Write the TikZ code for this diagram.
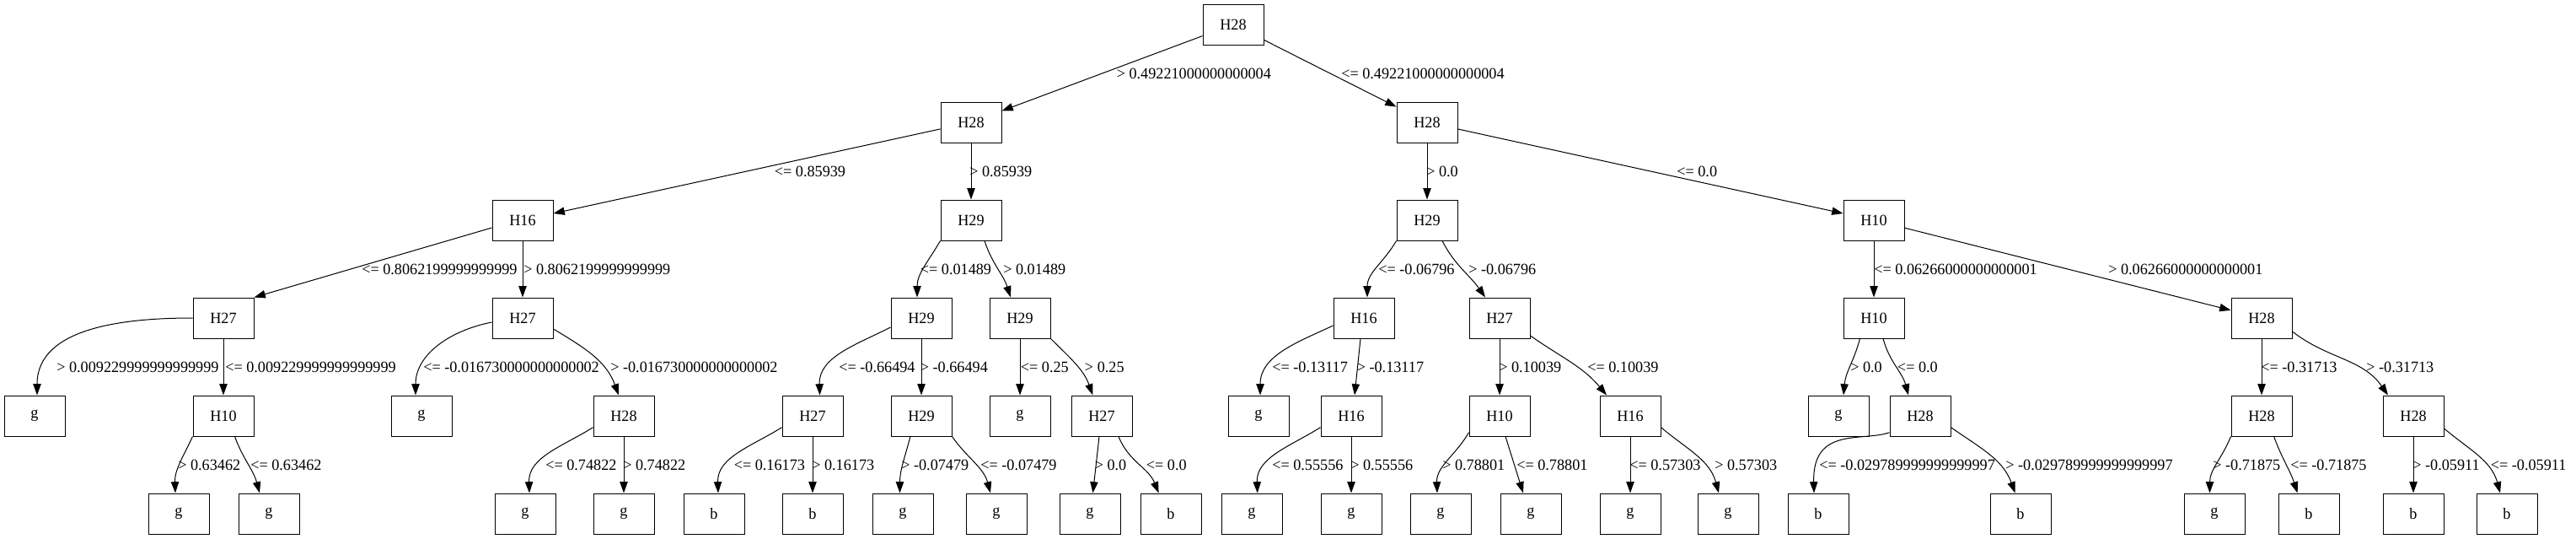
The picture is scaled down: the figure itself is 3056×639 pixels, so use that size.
\documentclass[tikz,border=0pt]{standalone}
\usepackage{fontspec}
\setmainfont{Liberation Serif}[FakeStretch=0.975]
\usetikzlibrary{arrows.meta,calc}
\begin{document}
\begin{tikzpicture}[x=0.75pt,y=-0.75pt,
  box/.style={draw,line width=0.75pt,minimum width=54pt,minimum height=36pt,inner sep=0pt,font=\fontsize{14pt}{16pt}\selectfont},
  edge/.style={line width=0.75pt,-{Triangle[length=10pt,width=7pt]}},
  lab/.style={anchor=base west,inner sep=0pt,font=\fontsize{14pt}{16pt}\selectfont}]
\useasboundingbox (0,0) rectangle (3056,639);
% level 0
\node[box] (n0) at (1463,29) {H28};
% level 1
\node[box] (n1) at (1152,145) {H28};
\node[box] (n2) at (1693,145) {H28};
% level 2
\node[box] (n3) at (620,261) {H16};
\node[box] (n4) at (1152,261) {H29};
\node[box] (n5) at (1693,261) {H29};
\node[box] (n6) at (2223,261) {H10};
% level 3
\node[box] (n7) at (265,377) {H27};
\node[box] (n8) at (620,377) {H27};
\node[box] (n9) at (1093,377) {H29};
\node[box] (n10) at (1210,377) {H29};
\node[box] (n11) at (1618,377) {H16};
\node[box] (n12) at (1779,377) {H27};
\node[box] (n13) at (2223,377) {H10};
\node[box] (n14) at (2683,377) {H28};
% level 4
\node[box] (n15) at (41,493) {g};
\node[box] (n16) at (265,493) {H10};
\node[box] (n17) at (500,493) {g};
\node[box] (n18) at (740,493) {H28};
\node[box] (n19) at (964,493) {H27};
\node[box] (n20) at (1093,493) {H29};
\node[box] (n21) at (1210,493) {g};
\node[box] (n22) at (1307,493) {H27};
\node[box] (n23) at (1493,493) {g};
\node[box] (n24) at (1603,493) {H16};
\node[box] (n25) at (1779,493) {H10};
\node[box] (n26) at (1934,493) {H16};
\node[box] (n27) at (2181,493) {g};
\node[box] (n28) at (2278,493) {H28};
\node[box] (n29) at (2683,493) {H28};
\node[box] (n30) at (2863,493) {H28};
% level 5
\node[box] (n31) at (212,609) {g};
\node[box] (n32) at (319,609) {g};
\node[box] (n33) at (623,609) {g};
\node[box] (n34) at (740,609) {g};
\node[box] (n35) at (847,609) {b};
\node[box] (n36) at (964,609) {b};
\node[box] (n37) at (1071,609) {g};
\node[box] (n38) at (1182,609) {g};
\node[box] (n39) at (1293,609) {g};
\node[box] (n40) at (1389,609) {b};
\node[box] (n41) at (1485,609) {g};
\node[box] (n42) at (1603,609) {g};
\node[box] (n43) at (1709,609) {g};
\node[box] (n44) at (1816,609) {g};
\node[box] (n45) at (1934,609) {g};
\node[box] (n46) at (2050,609) {g};
\node[box] (n47) at (2157,609) {b};
\node[box] (n48) at (2397,609) {b};
\node[box] (n49) at (2627,609) {g};
\node[box] (n50) at (2739,609) {b};
\node[box] (n51) at (2863,609) {b};
\node[box] (n52) at (2974,609) {b};
% edges
\draw[edge] (n0) -- (n1);
\draw[edge] (n0) -- (n2);
\draw[edge] (n1) -- (n3);
\draw[edge] (n1) -- (n4);
\draw[edge] (n2) -- (n5);
\draw[edge] (n2) -- (n6);
\draw[edge] ($(n3.west)+(0,9)$) -- (n7.north east);
\draw[edge] (n3) -- (n8);
\draw[edge] (n4.south west) to[out=-120,in=90] ($(n9.north)+(-5,0)$);
\draw[edge] ($(n4.south)+(16,0)$) to[out=-72,in=108] ($(n10.north)+(-11,0)$);
\draw[edge] (n5.south west) to[out=-120,in=90] ($(n11.north)+(4,0)$);
\draw[edge] ($(n5.south)+(18,0)$) to[out=-63,in=125] ($(n12.north)+(-17,0)$);
\draw[edge] (n6) -- (n13);
\draw[edge] (n6) -- (n14);
\draw[edge] (n7.west) to[out=180,in=90] ($(n15.north)+(3,0)$);
\draw[edge] (n7) -- (n16);
\draw[edge] ($(n8.west)+(0,5)$) to[out=191,in=90] ($(n17.north)+(-7,0)$);
\draw[edge] ($(n8.east)+(0,13)$) to[out=-31,in=110] ($(n18.north)+(-6,0)$);
\draw[edge] ($(n9.west)+(0,11)$) to[out=207,in=92] ($(n19.north)+(8.6,0)$);
\draw[edge] (n9) -- (n20);
\draw[edge] (n10) -- (n21);
\draw[edge] (n10.south east) to[out=-45,in=110] ($(n22.north)+(-10.5,0)$);
\draw[edge] ($(n11.west)+(0,9)$) to[out=205,in=90] ($(n23.north)+(2,0)$);
\draw[edge] ($(n11.south)+(-4,0)$) -- ($(n24.north)+(4,0)$);
\draw[edge] (n12) -- (n25);
\draw[edge] ($(n12.east)+(0,21)$) to[out=-35,in=130] ($(n26.north)+(-28,0)$);
\draw[edge] ($(n13.south)+(-16.5,0)$) to[out=-105,in=85] ($(n27.north)+(6,0)$);
\draw[edge] ($(n13.south)+(11,0)$) to[out=-75,in=105] ($(n28.north)+(-14,0)$);
\draw[edge] (n14) -- (n29);
\draw[edge] ($(n14.east)+(0,16)$) to[out=-38,in=125] ($(n30.north)+(-30,0)$);
\draw[edge] (n16.south west) to[out=-115,in=92] ($(n31.north)+(-4,0)$);
\draw[edge] ($(n16.south)+(13.5,0)$) to[out=-70,in=105] ($(n32.north)+(-11,0)$);
\draw[edge] ($(n18.west)+(0,13.7)$) to[out=212,in=92] ($(n33.north)+(5,0)$);
\draw[edge] (n18) -- (n34);
\draw[edge] ($(n19.west)+(0,13.7)$) to[out=212,in=92] ($(n35.north)+(5,0)$);
\draw[edge] (n19) -- (n36);
\draw[edge] ($(n20.south)+(-13,0)$) to[out=-105,in=90] ($(n37.north)+(-3.5,0)$);
\draw[edge] (n20.south east) to[out=-55,in=105] ($(n38.north)+(-7,0)$);
\draw[edge] ($(n22.south)+(-3,0)$) -- ($(n39.north)+(3.5,0)$);
\draw[edge] ($(n22.south)+(20,0)$) to[out=-68,in=112] ($(n40.north)+(-14.4,0)$);
\draw[edge] ($(n24.west)+(0,13.7)$) to[out=212,in=92] ($(n41.north)+(6.7,0)$);
\draw[edge] (n24) -- (n42);
\draw[edge] ($(n25.west)+(0,19.7)$) to[out=-120,in=92] ($(n43.north)+(-4,0)$);
\draw[edge] ($(n25.south)+(7,0)$) -- ($(n44.north)+(-9,0)$);
\draw[edge] (n26) -- (n45);
\draw[edge] ($(n26.east)+(0,13.7)$) to[out=-40,in=105] ($(n46.north)+(-11,0)$);
\draw[edge] ($(n28.west)+(0,19.7)$) .. controls (2210,524) and (2150,505) .. ($(n47.north)+(-5,0)$);
\draw[edge] ($(n28.east)+(0,13.7)$) to[out=-35,in=110] ($(n48.north)+(-6.4,0)$);
\draw[edge] (n29.south west) to[out=-112,in=90] ($(n49.north)+(-5.5,0)$);
\draw[edge] ($(n29.south)+(14.6,0)$) to[out=-70,in=108] ($(n50.north)+(-13.4,0)$);
\draw[edge] (n30) -- (n51);
\draw[edge] ($(n30.east)+(0,15)$) to[out=-40,in=105] ($(n52.north)+(-8,0)$);
% labels
\node[lab] (l1) at (1324.5,93.3) {> 0.49221000000000004};
\node[lab] (l2) at (1591,93.3) {<= 0.49221000000000004};
\node[lab] (l3) at (918.6,209.3) {<= 0.85939};
\node[lab] (l4) at (1150,209.3) {> 0.85939};
\node[lab] (l5) at (1692,209.3) {> 0.0};
\node[lab] (l6) at (1989,209.3) {<= 0.0};
\node[lab] (l7) at (429,325.3) {<= 0.8062199999999999};
\node[lab] (l8) at (621,325.3) {> 0.8062199999999999};
\node[lab] (l9) at (1091.6,325.3) {<= 0.01489};
\node[lab] (l10) at (1190,325.3) {> 0.01489};
\node[lab] (l11) at (1635,325.3) {<= -0.06796};
\node[lab] (l12) at (1742,325.3) {> -0.06796};
\node[lab] (l13) at (2223,325.3) {<= 0.06266000000000001};
\node[lab] (l14) at (2501,325.3) {> 0.06266000000000001};
\node[lab] (l15) at (67,441.3) {> 0.009229999999999999};
\node[lab] (l16) at (267,441.3) {<= 0.009229999999999999};
\node[lab] (l17) at (502,441.3) {<= -0.016730000000000002};
\node[lab] (l18) at (724,441.3) {> -0.016730000000000002};
\node[lab] (l19) at (995,441.3) {<= -0.66494};
\node[lab] (l20) at (1091.6,441.3) {> -0.66494};
\node[lab] (l21) at (1210.6,441.3) {<= 0.25};
\node[lab] (l22) at (1286.7,441.3) {> 0.25};
\node[lab] (l23) at (1509,441.3) {<= -0.13117};
\node[lab] (l24) at (1609.5,441.3) {> -0.13117};
\node[lab] (l25) at (1778,441.3) {> 0.10039};
\node[lab] (l26) at (1883,441.3) {<= 0.10039};
\node[lab] (l27) at (2195,441.3) {> 0.0};
\node[lab] (l28) at (2250.7,441.3) {<= 0.0};
\node[lab] (l29) at (2682,441.3) {<= -0.31713};
\node[lab] (l30) at (2807,441.3) {> -0.31713};
\node[lab] (l31) at (211,557.3) {> 0.63462};
\node[lab] (l32) at (297,557.3) {<= 0.63462};
\node[lab] (l33) at (647,557.3) {<= 0.74822};
\node[lab] (l34) at (739,557.3) {> 0.74822};
\node[lab] (l35) at (870.5,557.3) {<= 0.16173};
\node[lab] (l36) at (963,557.3) {> 0.16173};
\node[lab] (l37) at (1069,557.3) {> -0.07479};
\node[lab] (l38) at (1163,557.3) {<= -0.07479};
\node[lab] (l39) at (1298.5,557.3) {> 0.0};
\node[lab] (l40) at (1359.6,557.3) {<= 0.0};
\node[lab] (l41) at (1509,557.3) {<= 0.55556};
\node[lab] (l42) at (1602,557.3) {> 0.55556};
\node[lab] (l43) at (1711,557.3) {> 0.78801};
\node[lab] (l44) at (1799,557.3) {<= 0.78801};
\node[lab] (l45) at (1933,557.3) {<= 0.57303};
\node[lab] (l46) at (2034,557.3) {> 0.57303};
\node[lab] (l47) at (2158,557.3) {<= -0.029789999999999997};
\node[lab] (l48) at (2379,557.3) {> -0.029789999999999997};
\node[lab] (l49) at (2625,557.3) {> -0.71875};
\node[lab] (l50) at (2717,557.3) {<= -0.71875};
\node[lab] (l51) at (2862,557.3) {> -0.05911};
\node[lab] (l52) at (2954.5,557.3) {<= -0.05911};
\end{tikzpicture}
\end{document}
